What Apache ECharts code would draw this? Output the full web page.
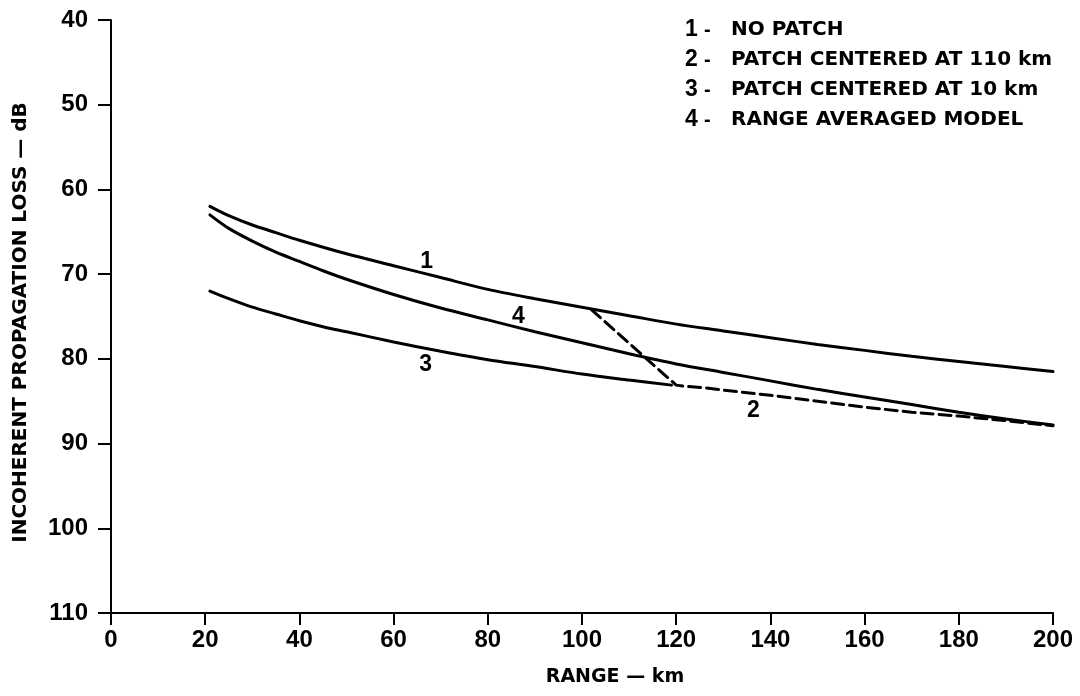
<!DOCTYPE html>
<html>
<head>
<meta charset="utf-8">
<script src="https://cdn.jsdelivr.net/npm/echarts@6/dist/echarts.min.js"></script>
<style>html,body{margin:0;padding:0;background:#fff;}#c{width:1080px;height:696px;}</style>
</head>
<body>
<div id="c"></div>
<script>
// ---- data ----
const xTicks = [0, 20, 40, 60, 80, 100, 120, 140, 160, 180, 200];
const yTicks = [40, 50, 60, 70, 80, 90, 100, 110];

const legendNames = ['NO PATCH', 'PATCH CENTERED AT 110 km', 'PATCH CENTERED AT 10 km', 'RANGE AVERAGED MODEL'];

// 1 - no patch
const noPatchX = [21, 25, 30, 35, 40, 50, 60, 70, 80, 90, 100, 110, 120, 130, 140, 150, 160, 170, 180, 190, 200];
const noPatchY = [62.0, 63.1, 64.2, 65.1, 66.0, 67.6, 69.0, 70.4, 71.8, 72.9, 73.9, 74.9, 75.9, 76.7, 77.5, 78.3, 79.0, 79.7, 80.3, 80.9, 81.5];

// 2 - patch centered at 110 km (dashed)
const patch110X = [102, 120, 122, 126, 130, 140, 150, 160, 170, 180, 190, 200];
const patch110Y = [74.2, 83.1, 83.25, 83.4, 83.7, 84.3, 85.0, 85.7, 86.3, 86.75, 87.3, 87.9];

// 3 - patch centered at 10 km
const patch10X = [21, 25, 30, 35, 40, 45, 50, 60, 70, 80, 90, 100, 110, 119];
const patch10Y = [72.0, 72.9, 73.9, 74.7, 75.5, 76.2, 76.8, 78.0, 79.1, 80.1, 80.9, 81.8, 82.5, 83.1];

// 4 - range averaged model
const avgX = [21, 25, 30, 35, 40, 45, 50, 60, 70, 80, 90, 100, 110, 120, 130, 140, 150, 160, 170, 180, 190, 200];
const avgY = [63.0, 64.6, 66.1, 67.4, 68.5, 69.6, 70.6, 72.4, 74.0, 75.4, 76.8, 78.1, 79.4, 80.6, 81.6, 82.6, 83.6, 84.5, 85.4, 86.3, 87.1, 87.8];

// curve label positions (data coordinates)
const curveLabels = ['1', '2', '3', '4'];
const curveLabelX = [67, 136.4, 66.8, 86.5];
const curveLabelY = [68.5, 86.1, 80.7, 75.0];

// ---- chart ----
const pairs = (xs, ys) => xs.map((x, i) => [x, ys[i]]);
const FONT = '"Liberation Sans", Arial, sans-serif';
const WIDE = '"DejaVu Sans", sans-serif';

function labelPoint(i) {
  return {
    symbol: 'circle',
    symbolSize: 0,
    silent: true,
    data: [{ coord: [curveLabelX[i], curveLabelY[i]], value: curveLabels[i] }],
    label: {
      show: true, position: 'inside', formatter: curveLabels[i],
      color: '#000', fontFamily: FONT, fontWeight: 'bold', fontSize: 23
    }
  };
}

const seriesData = [
  { x: noPatchX, y: noPatchY, dashed: false, smooth: 0.3 },
  { x: patch110X, y: patch110Y, dashed: true, smooth: false },
  { x: patch10X, y: patch10Y, dashed: false, smooth: 0.3 },
  { x: avgX, y: avgY, dashed: false, smooth: 0.3 }
];

const chart = echarts.init(document.getElementById('c'), null, { renderer: 'canvas' });
chart.setOption({
  animation: false,
  backgroundColor: '#fff',
  grid: { left: 111, right: 27, top: 20, bottom: 83, containLabel: false },
  legend: {
    orient: 'vertical',
    left: 674,
    top: 10,
    itemWidth: 0,
    itemHeight: 0,
    itemGap: 0,
    selectedMode: false,
    data: legendNames,
    formatter: function (name) {
      const i = legendNames.indexOf(name);
      return '{n|' + (i + 1) + '}{d|-}{t|' + name + '}';
    },
    textStyle: {
      color: '#000', fontFamily: WIDE, fontSize: 20, lineHeight: 30,
      rich: {
        n: { fontFamily: FONT, fontSize: 23, fontWeight: 'bold', width: 19, lineHeight: 30, color: '#000' },
        d: { fontFamily: FONT, fontSize: 20, fontWeight: 'bold', width: 27, lineHeight: 30, color: '#000' },
        t: { fontFamily: WIDE, fontSize: 20, fontWeight: 'bold', lineHeight: 30, color: '#000' }
      }
    }
  },
  xAxis: {
    type: 'value',
    min: xTicks[0], max: xTicks[xTicks.length - 1], interval: 20,
    name: 'RANGE — km',
    nameLocation: 'middle',
    nameGap: 55,
    nameTextStyle: { color: '#000', fontFamily: WIDE, fontSize: 19, fontWeight: 'bold', padding: [0, 0, 0, 66] },
    axisLine: { show: true, lineStyle: { color: '#000', width: 2 } },
    axisTick: { show: true, inside: false, length: 12, lineStyle: { color: '#000', width: 2 } },
    axisLabel: { color: '#000', fontFamily: FONT, fontSize: 24, fontWeight: 'bold', margin: 15 },
    splitLine: { show: false }
  },
  yAxis: {
    type: 'value',
    inverse: true,
    min: yTicks[0], max: yTicks[yTicks.length - 1], interval: 10,
    name: 'INCOHERENT PROPAGATION LOSS — dB',
    nameLocation: 'middle',
    nameRotate: 90,
    nameGap: 80,
    nameTextStyle: { color: '#000', fontFamily: WIDE, fontSize: 20, fontWeight: 'bold', padding: [0, 12, 0, 0] },
    axisLine: { show: true, lineStyle: { color: '#000', width: 2 } },
    axisTick: { show: true, inside: false, length: 13, lineStyle: { color: '#000', width: 2 } },
    axisLabel: { color: '#000', fontFamily: FONT, fontSize: 24, fontWeight: 'bold', margin: 23 },
    splitLine: { show: false }
  },
  series: seriesData.map((s, i) => ({
    name: legendNames[i],
    type: 'line',
    data: pairs(s.x, s.y),
    smooth: s.smooth,
    showSymbol: false,
    symbol: 'none',
    color: '#000',
    lineStyle: { color: '#000', width: 3, type: s.dashed ? [12, 6] : 'solid', cap: 'round' },
    markPoint: labelPoint(i),
    z: 3
  }))
});
</script>
</body>
</html>
